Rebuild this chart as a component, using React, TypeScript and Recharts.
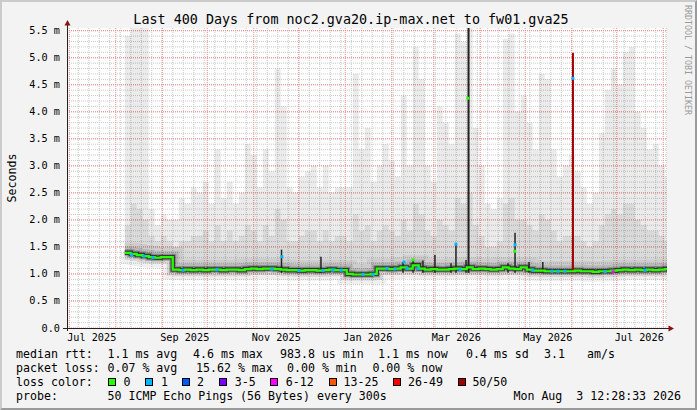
import React from "react"
import {
  ComposedChart,
  Area,
  Line,
  Scatter,
  XAxis,
  YAxis,
  CartesianGrid,
} from "recharts"

// x is counted in days from 1 Jul 2025, one smoke bucket every 4 days from 7 Aug 2025
const firstBucketDay = 37
const bucketStep = 4
const rightEdgeDay = 398.5

// median rtt per bucket, ms
const medianRtt = [
  1.39, 1.37, 1.35, 1.33, 1.31, 1.3, 1.31, 1.31,
  1.08, 1.07, 1.08, 1.07, 1.08, 1.07, 1.08, 1.08, 1.07, 1.08, 1.08, 1.07,
  1.09, 1.1, 1.09, 1.1, 1.1, 1.09, 1.08, 1.07, 1.07, 1.06, 1.07, 1.07, 1.06, 1.07, 1.08, 1.07, 1.07,
  1.0, 0.99, 0.99, 0.99, 1.0,
  1.1, 1.1, 1.09, 1.1, 1.12, 1.1, 1.16, 1.1, 1.08, 1.09, 1.08, 1.08, 1.09, 1.1, 1.09,
  1.12, 1.09, 1.1, 1.09, 1.08, 1.09, 1.12, 1.1, 1.09, 1.12, 1.08, 1.06, 1.06,
  1.05, 1.05, 1.05, 1.05, 1.05, 1.06, 1.05, 1.05, 1.04, 1.05, 1.05, 1.06, 1.07, 1.08, 1.07, 1.08, 1.07, 1.08, 1.07, 1.08, 1.09,
]

// upper edge of the denser part of the smoke, ms
const smokeMid = [
  1.9, 2.3, 2.2, 2.0, 1.7, 1.6, 1.7, 1.6,
  1.5, 1.6, 1.6, 1.7, 1.7, 1.8, 1.6, 1.9, 1.6, 1.8, 1.6, 1.7,
  1.9, 1.8, 1.6, 1.9, 1.7, 2.2, 2.0, 1.6, 1.6, 1.7, 1.8, 1.8, 1.6, 1.8, 1.6, 1.7, 1.7,
  1.6, 2.1, 1.8, 1.9, 1.6,
  1.8, 1.9, 1.8, 1.7, 2.0, 1.8, 2.3, 2.1, 1.8, 1.7, 2.0, 1.9, 1.8, 2.4, 2.3,
  2.5, 1.9, 1.7, 1.5, 1.5, 1.6, 2.3, 2.4, 2.0, 2.0, 1.9, 1.8, 2.1,
  2.0, 1.8, 1.6, 1.7, 1.7, 1.7, 1.6, 1.5, 1.6, 1.9, 2.1, 2.2, 2.1, 2.3, 2.3, 2.0, 1.9, 1.8, 1.8, 1.7, 1.6,
]

// slowest ping per bucket (top of the light smoke), ms
const smokeMax = [
  5.4, 5.55, 5.55, 5.55, 2.2, 1.9, 2.1, 2.0,
  2.0, 2.4, 2.3, 2.6, 2.5, 2.7, 2.3, 3.3, 2.4, 2.7, 2.3, 2.5,
  3.4, 3.2, 2.6, 3.3, 2.9, 4.8, 4.1, 2.6, 2.5, 2.8, 2.9, 3.0, 2.6, 3.0, 2.5, 2.6, 2.6,
  2.6, 4.7, 3.3, 3.7, 2.7,
  3.0, 3.4, 3.1, 2.8, 4.3, 3.0, 5.2, 4.6, 3.0, 2.7, 4.1, 3.8, 3.4, 5.45, 5.3,
  5.55, 3.7, 3.0, 2.3, 2.2, 2.4, 5.35, 5.45, 4.0, 4.3, 3.8, 3.3, 4.7,
  4.6, 3.3, 2.8, 3.0, 3.2, 2.9, 2.6, 2.3, 2.5, 3.6, 4.4, 4.8, 4.5, 5.1, 5.2, 4.0, 3.7, 3.3, 3.4, 3.0, 2.8,
]

// short dark spikes in the smoke
const spikeDays = [141.5, 167.8, 222.5, 229.2, 235.8, 243.8, 254.5, 257.8, 264.5, 266.2, 292.5, 297.2, 306.5, 315.7, 335.8]
const spikeTops = [1.45, 1.32, 1.22, 1.27, 1.25, 1.35, 1.2, 1.56, 1.26, 5.55, 1.2, 1.76, 1.22, 1.22, 5.09]
const spikeLoss = ["", "", "", "", "", "", "", "", "", "", "", "", "", "", "50/50"]
const spikeFloor = 1.02

// median points drawn in a loss colour
const lossDotDays = [
  41.6, 49.8, 55.8, 75.8, 98.5, 135.2, 141.8, 153.2, 169.2, 175.8, 181.2, 195.8, 202.5, 211.8, 217.2,
  223.2, 225.2, 232.5, 257.8, 260.5, 297.2, 309.2, 321.8, 325.8, 330.5, 335.8, 357.2, 362.5, 383.8,
  265.7, 229.2, 297.0,
]
const lossDotRtt = [
  1.35, 1.33, 1.3, 1.07, 1.08, 1.09, 1.32, 1.06, 1.06, 1.07, 1.07, 0.99, 0.99, 1.1, 1.09,
  1.22, 1.1, 1.1, 1.55, 1.08, 1.54, 1.07, 1.05, 1.05, 1.05, 4.62, 1.04, 1.04, 1.07,
  4.25, 1.26, 1.42,
]
const lossDotClass = [
  "1", "1", "1", "1", "1", "1", "1", "1", "1", "1", "1", "1", "1", "1", "1",
  "1", "1", "1", "1", "1", "1", "1", "1", "1", "1", "1", "1", "6-12", "1",
  "0", "0", "0",
]

const lossClasses = ["0", "1", "2", "3-5", "6-12", "13-25", "26-49", "50/50"]
const lossColors = ["#26ff00", "#00b8ff", "#0059ff", "#7e00ff", "#ff00ff", "#ff5500", "#ff0000", "#a10000"]

const monthStarts = [0, 31, 62, 92, 123, 153, 184, 215, 243, 274, 304, 335, 365, 396]
const monthLabelDays = [15, 77, 138, 199, 258, 319, 380]
const monthLabels = ["Jul 2025", "Sep 2025", "Nov 2025", "Jan 2026", "Mar 2026", "May 2026", "Jul 2026"]
const rttTicks = [0, 0.5, 1, 1.5, 2, 2.5, 3, 3.5, 4, 4.5, 5, 5.5]

const mono = "'DejaVu Sans Mono', monospace"

const lossColor = (cls: string) => lossColors[lossClasses.indexOf(cls)] || "#222222"

// weekly grid (mondays) and 0.1 ms grid
const mondays: number[] = []
for (let d = 6; d < rightEdgeDay; d += 7) mondays.push(d)
const minorRtt: number[] = []
for (let k = 1; k <= 55; k++) minorRtt.push(k / 10)

const rows = medianRtt.map((m, i) => ({
  day: firstBucketDay + i * bucketStep,
  median: m,
  max: [m, smokeMax[i]],
  mid: [m, smokeMid[i]],
}))
rows.push({ ...rows[rows.length - 1], day: rightEdgeDay })

const spikes = spikeDays.map((d, i) => ({
  color: lossColor(spikeLoss[i]),
  tall: spikeTops[i] > 3,
  points: [
    { day: d, rtt: spikeFloor },
    { day: d, rtt: spikeTops[i] },
  ],
}))

const lossDots = lossDotDays.map((d, i) => ({ day: d, rtt: lossDotRtt[i], color: lossColor(lossDotClass[i]) }))

const XTick = (p: any) => (
  <text x={p.x} y={p.y + 13} textAnchor="middle" fontSize={10.2} fontFamily={mono} fill="#000">
    {monthLabels[monthLabelDays.indexOf(p.payload.value)]}
  </text>
)

const YTick = (p: any) => {
  const v = p.payload.value
  return (
    <text x={p.x - 7} y={p.y + 3.5} textAnchor="end" fontSize={10.2} fontFamily={mono} fill="#000">
      {v === 0 ? "0.0" : `${v.toFixed(1)} m`}
    </text>
  )
}

const LossDot = (p: any) => (
  <rect x={p.cx - 1.5} y={p.cy - 1.5} width={3} height={3} fill={p.payload.color} />
)

const shadows = [
  { w: 20, o: 0.06 },
  { w: 12, o: 0.1 },
  { w: 7, o: 0.25 },
  { w: 4.5, o: 0.6 },
]

const legendRows = [
  { y: 358, items: [[16, "median rtt:"], [107.5, "1.1 ms avg"], [193, "4.6 ms max"], [280, "983.8 us min"], [378, "1.1 ms now"], [466, "0.4 ms sd"], [544, "3.1"], [587, "am/s"]] },
  { y: 372, items: [[16, "packet loss:"], [107.5, "0.07 % avg"], [196, "15.62 % max"], [287, "0.00 % min"], [372.4, "0.00 % now"]] },
  { y: 386, items: [[16, "loss color:"]] },
  { y: 400, items: [[16, "probe:"], [107.5, "50 ICMP Echo Pings (56 Bytes) every 300s"]] },
]
const swatchX = [108, 145, 182, 219, 270, 329, 393, 458]
const swatchLabelX = [123.6, 161, 197, 234.7, 285.8, 343.6, 408, 472.4]

export default function App() {
  return (
    <div style={{ position: "absolute", left: 0, top: 0, width: 697, height: 410, background: "#f3f3f3" }}>
      <ComposedChart width={697} height={410} data={rows} margin={{ top: 28, right: 30, bottom: 0, left: 7 }}>
        <CartesianGrid
          fill="#ffffff"
          stroke="#c8c8c8"
          strokeDasharray="1 1"
          horizontalValues={minorRtt}
          verticalValues={mondays}
        />
        <CartesianGrid
          stroke="#f08a8a"
          strokeDasharray="1 1"
          horizontalValues={rttTicks}
          verticalValues={monthStarts}
        />
        <XAxis
          dataKey="day"
          type="number"
          domain={[-1.5, rightEdgeDay]}
          allowDataOverflow
          ticks={monthLabelDays}
          interval={0}
          height={82}
          axisLine={false}
          tickLine={false}
          tickSize={0}
          tickMargin={0}
          tick={XTick}
        />
        <YAxis
          type="number"
          domain={[0, 5.55]}
          allowDataOverflow
          ticks={rttTicks}
          interval={0}
          width={60}
          axisLine={false}
          tickLine={false}
          tickSize={0}
          tickMargin={0}
          tick={YTick}
        />
        <Area
          dataKey="max"
          type="stepAfter"
          fill="#000"
          fillOpacity={0.08}
          stroke="none"
          isAnimationActive={false}
        />
        <Area
          dataKey="mid"
          type="stepAfter"
          fill="#000"
          fillOpacity={0.07}
          stroke="none"
          isAnimationActive={false}
        />
        {shadows.map((s) => (
          <Line
            key={s.w}
            dataKey="median"
            type="stepAfter"
            stroke="#000"
            strokeOpacity={s.o}
            strokeWidth={s.w}
            dot={false}
            activeDot={false}
            isAnimationActive={false}
          />
        ))}
        {spikes.map((s, i) => (
          <Line
            key={`spike-${i}`}
            data={s.points}
            dataKey="rtt"
            type="linear"
            stroke={s.color}
            strokeWidth={s.tall ? 2 : 1.5}
            dot={false}
            activeDot={false}
            isAnimationActive={false}
          />
        ))}
        <Line
          dataKey="median"
          type="stepAfter"
          stroke="#26ff00"
          strokeWidth={2.2}
          dot={false}
          activeDot={false}
          isAnimationActive={false}
        />
        <Scatter data={lossDots} dataKey="rtt" shape={LossDot} isAnimationActive={false} />
      </ComposedChart>

      <svg
        width={697}
        height={410}
        style={{ position: "absolute", left: 0, top: 0, pointerEvents: "none" }}
        fontFamily={mono}
      >
        <text x={351} y={24} textAnchor="middle" fontSize={13.4} fill="#000">
          Last 400 Days from noc2.gva20.ip-max.net to fw01.gva25
        </text>
        <text transform="translate(15.5,178) rotate(-90)" textAnchor="middle" fontSize={11.6} fill="#000">
          Seconds
        </text>
        <text transform="translate(685,60) rotate(90)" textAnchor="middle" fontSize={8.3} fill="#9a9a9a">
          RRDTOOL / TOBI OETIKER
        </text>

        <line x1={67.5} y1={331} x2={67.5} y2={24} stroke="#222" strokeWidth={1} />
        <line x1={63} y1={328.5} x2={669} y2={328.5} stroke="#222" strokeWidth={1} />
        <polygon points="64.5,25.5 70.5,25.5 67.5,20" fill="#8b1010" />
        <polygon points="668.5,325.5 668.5,331.5 674,328.5" fill="#8b1010" />

        {legendRows.map((r) =>
          r.items.map(([x, t]) => (
            <text key={`${r.y}-${x}`} x={x as number} y={r.y} fontSize={11.6} fill="#000" style={{ whiteSpace: "pre" }}>
              {t}
            </text>
          ))
        )}
        {lossClasses.map((c, i) => (
          <g key={c}>
            <rect x={swatchX[i] + 0.5} y={378.5} width={7} height={7} fill={lossColors[i]} stroke="#000" />
            <text x={swatchLabelX[i]} y={386} fontSize={11.6} fill="#000">
              {c}
            </text>
          </g>
        ))}
        <text x={681} y={400} textAnchor="end" fontSize={11.6} fill="#000" style={{ whiteSpace: "pre" }}>
          Mon Aug  3 12:28:33 2026
        </text>
      </svg>

      <div
        style={{
          position: "absolute",
          inset: 0,
          boxSizing: "border-box",
          borderTop: "2px solid #cbcbcb",
          borderLeft: "2px solid #cbcbcb",
          borderRight: "2px solid #9a9a9a",
          borderBottom: "2px solid #9a9a9a",
          pointerEvents: "none",
        }}
      />
    </div>
  )
}
